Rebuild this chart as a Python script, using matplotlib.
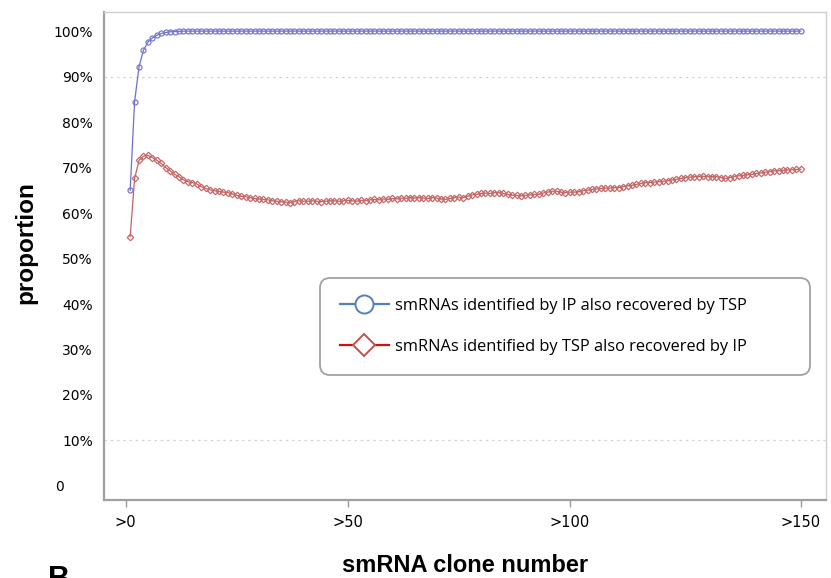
import matplotlib.pyplot as plt
from matplotlib.lines import Line2D
from matplotlib.transforms import ScaledTranslation

# proportion (%) at each clone-number cutoff
ip_in_tsp = [65.0, 84.5, 92.2, 95.8, 97.6, 98.5, 99.1, 99.5, 99.7, 99.85,
             99.9, 99.95, 100, 100, 100, 100, 100, 100, 100, 100,
             100, 100, 100, 100, 100, 100, 100, 100, 100, 100,
             100, 100, 100, 100, 100, 100, 100, 100, 100, 100,
             100, 100, 100, 100, 100, 100, 100, 100, 100, 100,
             100, 100, 100, 100, 100, 100, 100, 100, 100, 100,
             100, 100, 100, 100, 100, 100, 100, 100, 100, 100,
             100, 100, 100, 100, 100, 100, 100, 100, 100, 100,
             100, 100, 100, 100, 100, 100, 100, 100, 100, 100,
             100, 100, 100, 100, 100, 100, 100, 100, 100, 100,
             100, 100, 100, 100, 100, 100, 100, 100, 100, 100,
             100, 100, 100, 100, 100, 100, 100, 100, 100, 100,
             100, 100, 100, 100, 100, 100, 100, 100, 100, 100,
             100, 100, 100, 100, 100, 100, 100, 100, 100, 100,
             100, 100, 100, 100, 100, 100, 100, 100, 100, 100,
             100, 100]

tsp_in_ip = [54.8, 67.6, 71.6, 72.5, 72.7, 72.2, 71.6, 70.9, 70.0, 69.3,
             68.5, 68.0, 67.3, 66.9, 66.7, 66.4, 65.8, 65.4, 65.1, 64.9,
             64.8, 64.6, 64.5, 64.2, 63.9, 63.7, 63.6, 63.4, 63.2, 63.1,
             63.0, 62.9, 62.7, 62.6, 62.5, 62.4, 62.3, 62.5, 62.7, 62.6,
             62.6, 62.7, 62.6, 62.5, 62.6, 62.7, 62.7, 62.6, 62.7, 62.8,
             62.7, 62.6, 62.8, 62.7, 62.9, 63.0, 62.9, 63.1, 63.0, 63.2,
             63.1, 63.3, 63.2, 63.4, 63.3, 63.4, 63.3, 63.2, 63.4, 63.3,
             63.1, 63.0, 63.2, 63.4, 63.5, 63.4, 63.7, 64.0, 64.1, 64.3,
             64.4, 64.3, 64.5, 64.5, 64.3, 64.1, 63.9, 63.9, 63.8, 63.9,
             64.0, 64.1, 64.1, 64.4, 64.6, 64.8, 64.8, 64.6, 64.5, 64.6,
             64.6, 64.7, 64.9, 65.0, 65.2, 65.3, 65.4, 65.5, 65.5, 65.6,
             65.6, 65.8, 66.0, 66.1, 66.3, 66.5, 66.7, 66.7, 66.8, 66.9,
             67.0, 67.1, 67.3, 67.4, 67.6, 67.8, 67.9, 68.0, 68.0, 68.1,
             68.0, 68.0, 68.0, 67.8, 67.6, 67.8, 68.0, 68.2, 68.3, 68.4,
             68.5, 68.7, 68.8, 69.0, 69.1, 69.3, 69.3, 69.4, 69.5, 69.5,
             69.6, 69.6]

clone_n = list(range(1, len(tsp_in_ip) + 1))
xtick_pos = [0, 50, 100, len(tsp_in_ip)]
xtick_labels = ['>0', '>50', '>100', '>150']
ytick_pos = list(range(0, 101, 10))
ytick_labels = ['0'] + ['%d%%' % v for v in ytick_pos[1:]]

fig = plt.figure(figsize=(8.31, 5.78), dpi=100)
ax = fig.add_axes([0.1251, 0.1349, 0.869, 0.8443])

ax.axhline(90, color='#d4d4d4', lw=0.9, ls=(0, (2, 3)), zorder=0)
ax.axhline(10, color='#d4d4d4', lw=0.9, ls=(0, (2, 3)), zorder=0)

ax.plot(clone_n, ip_in_tsp, '-', color='#6d6dde', lw=0.9,
        marker='o', ms=3.6, mfc='none', mec='#7878cc', mew=0.9)
ax.plot(clone_n, tsp_in_ip, '-', color='#c86060', lw=0.9,
        marker='D', ms=3.3, mfc='none', mec='#c46a6a', mew=0.9)

ax.set_xlim(-4.9, 157.7)
ax.set_ylim(-3.1, 104.2)

ax.set_xticks(xtick_pos)
ax.set_xticklabels(xtick_labels, fontsize=10.5, family='DejaVu Sans')
ax.set_yticks(ytick_pos)
ax.set_yticklabels(ytick_labels, fontsize=10, family='DejaVu Sans')
ax.set_yticks([20, 40, 60, 80, 100], minor=True)
ax.tick_params(axis='y', which='major', length=0, pad=8)
ax.tick_params(axis='y', which='minor', length=4, color='#999999', width=1)
ax.tick_params(axis='x', length=5, color='#999999', width=1, pad=6)

# the "0" label sits left, lined up with the two-digit labels
zero_lbl = ax.get_yticklabels()[0]
zero_lbl.set_transform(zero_lbl.get_transform() +
                       ScaledTranslation(-29 / 100, 0, fig.dpi_scale_trans))

for side in ['left', 'bottom']:
    ax.spines[side].set_color('#a0a0a0')
    ax.spines[side].set_linewidth(1.6)
for side in ['top', 'right']:
    ax.spines[side].set_color('#d0d0d0')
    ax.spines[side].set_linewidth(1.0)

fig.text(0.031, 0.58, 'proportion', rotation=90, ha='center', va='center',
         fontsize=17.5, fontweight='bold', family='Liberation Sans')
fig.text(0.56, 0.022, 'smRNA clone number', ha='center', va='center',
         fontsize=17, fontweight='bold', family='Liberation Sans')
fig.text(0.058, -0.004, 'B', ha='left', va='center',
         fontsize=22, fontweight='bold', family='Liberation Sans')

handles = [
    Line2D([], [], color='#4f81bd', lw=1.6, marker='o', ms=13,
           mfc='white', mec='#4f81bd', mew=1.4),
    Line2D([], [], color='#d01010', lw=1.6, marker='D', ms=11,
           mfc='white', mec='#c0504d', mew=1.4),
]
labels = ['smRNAs identified by IP also recovered by TSP',
          'smRNAs identified by TSP also recovered by IP']
leg = fig.legend(handles, labels, loc='center', mode='expand',
                 bbox_to_anchor=(0.385, 0.3495, 0.5897, 0.172),
                 frameon=True, handlelength=3.0, handletextpad=0.4,
                 labelspacing=1.55, borderpad=1.2, borderaxespad=0,
                 prop={'family': 'Open Sans', 'size': 11.8})
frame = leg.get_frame()
frame.set_edgecolor('#8a8a8a')
frame.set_linewidth(1.3)
frame.set_boxstyle('round,pad=0,rounding_size=0.6')

fig.savefig('out.png', dpi=100)
